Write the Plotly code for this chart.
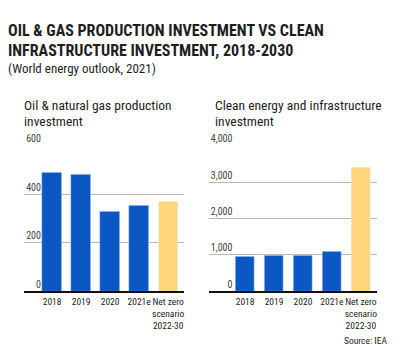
import plotly.graph_objects as go

categories = ["2018", "2019", "2020", "2021e", "Net zero<br>scenario<br>2022-30"]
oil_gas = [489, 479, 328, 353, 368]
clean = [960, 979, 982, 1085, 3386]
bar_colors = ["#0b57c4", "#0b57c4", "#0b57c4", "#0b57c4", "#fdd67c"]

title_lines = ["OIL & GAS PRODUCTION INVESTMENT VS CLEAN", "INFRASTRUCTURE INVESTMENT, 2018-2030"]
subtitle = "(World energy outlook, 2021)"
left_title = ["Oil & natural gas production", "investment"]
right_title = ["Clean energy and infrastructure", "investment"]
source = "Source: IEA"

FONT = "Roboto Condensed, Open Sans Condensed, DejaVu Sans Condensed, sans-serif"
TXT = "#1e1e1e"
H = 353.0
W = 400.0

fig = go.Figure()
fig.add_trace(go.Bar(x=list(range(5)), y=oil_gas, marker_color=bar_colors, width=0.67,
                     xaxis="x", yaxis="y", showlegend=False))
fig.add_trace(go.Bar(x=list(range(5)), y=clean, marker_color=bar_colors, width=0.67,
                     xaxis="x2", yaxis="y2", showlegend=False))

ycommon = dict(showgrid=True, gridcolor="#b8b8b8", gridwidth=1, zeroline=False,
               ticks="", ticklabelposition="outside top",
               tickfont=dict(family=FONT, size=10, color="#444"))
xcommon = dict(tickmode="array", tickvals=list(range(5)), ticktext=categories, tickangle=0,
               showline=True, linecolor="#111", linewidth=1.5, ticks="",
               tickfont=dict(family=FONT, size=9.5, color=TXT), showgrid=False)

fig.update_layout(
    width=400, height=353, margin=dict(l=0, r=0, t=0, b=0),
    paper_bgcolor="white", plot_bgcolor="white",
    xaxis=dict(domain=[0.06, 0.46], range=[-0.97, 4.53], anchor="y", **xcommon),
    yaxis=dict(domain=[0.181, 0.61], range=[0, 600], tickvals=[0, 200, 400, 600],
               anchor="x", ticklabelstandoff=-18, **ycommon),
    xaxis2=dict(domain=[0.525, 0.945], range=[-1.23, 4.56], anchor="y2", **xcommon),
    yaxis2=dict(domain=[0.181, 0.61], range=[0, 4000], tickvals=[0, 1000, 2000, 3000, 4000],
                tickformat=",", anchor="x2", ticklabelstandoff=-24, **ycommon),
    bargap=0,
)


def label(text, x, yc, size, anchor="left", bold=False):
    fig.add_annotation(text=("<b>" + text + "</b>") if bold else text,
                       x=x / W, y=1 - yc / H, xref="paper", yref="paper",
                       xanchor=anchor, yanchor="middle", showarrow=False,
                       font=dict(family=FONT, size=size, color=TXT))


label(title_lines[0], 6, 18.5, 16, bold=True)
label(title_lines[1], 6, 39, 16, bold=True)
label(subtitle, 6, 58, 13)
label(left_title[0], 22, 96, 13.5)
label(left_title[1], 22, 112.5, 13.5)
label(right_title[0], 214, 96, 13.5)
label(right_title[1], 214, 112.5, 13.5)
label(source, 390, 340, 9.5, anchor="right")

fig.write_html("out.html")
